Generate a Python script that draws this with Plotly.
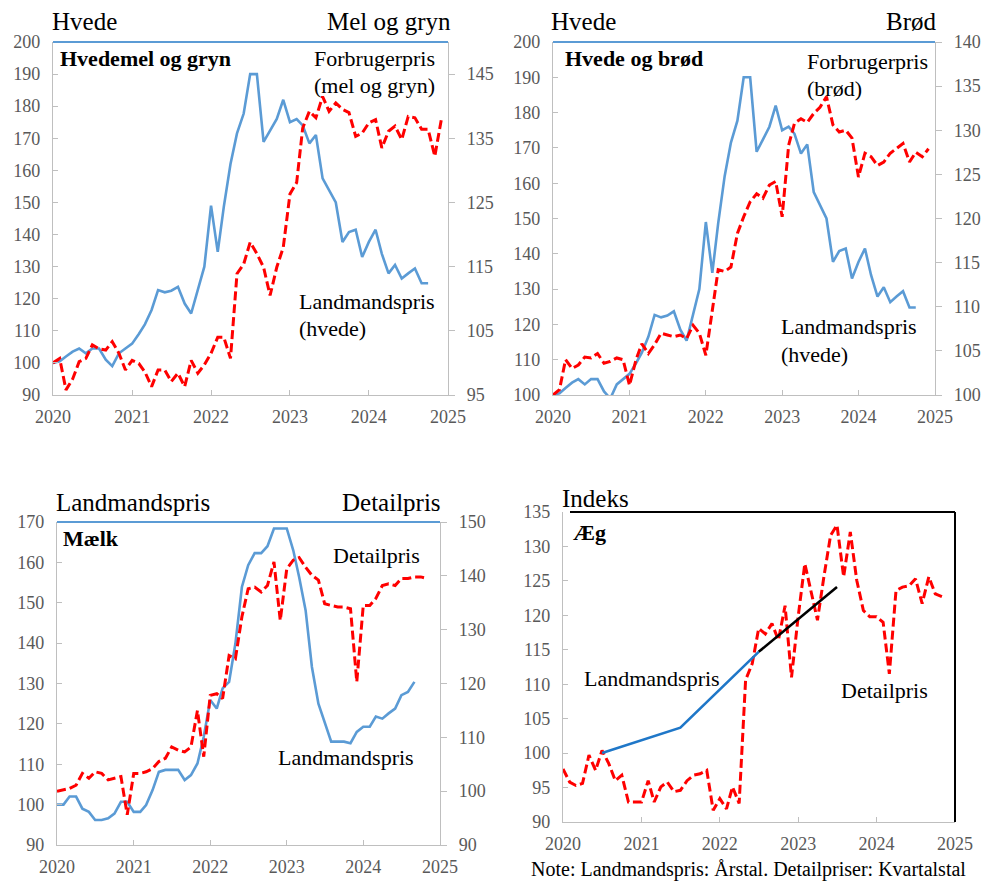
import plotly.graph_objects as go

# ---------------- data ----------------
# monthly series starting Jan 2020
wheat_farmer = [100, 100.5, 102, 103.5, 104.5, 103, 104.5, 104.5, 101, 99, 103, 104.5,
                106, 109, 112, 116.5, 122.7, 122, 122.5, 123.7, 118.5, 115.4, 122.7, 130,
                149, 134.6, 148.6, 162, 171.5, 177.7, 190, 190, 168.9, 172.5, 176, 182,
                175, 176, 174, 168.4, 171, 157.5, 154, 150, 137.7, 140.8, 141.5, 133,
                137.7, 141.5, 134, 127.9, 130.5, 126.3, 127.9, 129.4, 124.8, 124.8]

flour_cpi = [100, 100.7, 95.8, 97.5, 100.2, 100.7, 102.8, 102.2, 102, 103.3, 101.5, 98.9,
             100.4, 99.9, 98.6, 96.3, 98.9, 98.9, 97.1, 98.4, 96.3, 100.4, 98.4, 99.7,
             101.5, 104, 104, 100.7, 113.9, 115.4, 118.8, 117, 114.9, 110.5, 114.9, 118,
             126.3, 128.1, 136.6, 139.2, 138.2, 141.5, 139.2, 140.5, 139.5, 139, 135.3, 135.8,
             137.4, 137.9, 133.5, 136.1, 136.9, 134.8, 138.4, 138.2, 136.4, 136.4, 132.2, 137.9]

bread_cpi = [100, 100.6, 104, 103, 103.4, 104.3, 104.2, 104.7, 103.6, 103.8, 104.2, 104,
             101.1, 104, 105.8, 104.7, 105.7, 107, 106.8, 106.6, 106.8, 106.4, 107.9, 107,
             104.5, 109.8, 114.2, 114, 114.5, 118.3, 120.2, 121.9, 122.8, 122.3, 123.8, 124.2,
             120.2, 128.3, 130.8, 131.3, 130.9, 131.9, 132.6, 133.8, 130.6, 129.8, 130, 129.1,
             124.7, 127.4, 127, 126, 126.4, 127.4, 127.9, 128.5, 126.4, 127.5, 127, 127.9]

milk_farmer = [100, 100, 102, 102, 99, 98.2, 96.2, 96.2, 96.6, 97.8, 100.7, 100.7,
               98.2, 98.2, 99.9, 103.6, 108.1, 108.6, 108.6, 108.6, 106.1, 107.3, 110.2, 116.8,
               125.9, 123.8, 128.8, 130.4, 139.9, 153.9, 159.3, 162.3, 162.3, 164, 168.4, 168.4,
               168.4, 163, 156.4, 148.1, 134.1, 125, 120.1, 115.6, 115.6, 115.6, 115.2, 118,
               119.3, 119.3, 121.8, 121.3, 122.6, 123.8, 127.1, 127.9, 130.4]

milk_retail = [100, 100.2, 100.5, 101.1, 103.3, 102.4, 103.6, 103.3, 102.1, 102.4, 102.7, 95.6,
               103.3, 103.3, 103.6, 104.2, 105.5, 106.1, 108.2, 107.6, 107.3, 108.2, 115, 106.4,
               117.8, 118.1, 117.2, 125.2, 124.6, 132.4, 137.6, 137.9, 137, 138.2, 142.6, 131.7,
               141.3, 142.9, 143.4, 141.6, 140.1, 139.2, 134.8, 134.5, 134.2, 134.2, 133.9, 120.3,
               134.5, 134.5, 135.8, 138.2, 138.5, 138.2, 139.5, 139.5, 139.8, 139.8, 139.5]

egg_retail = [97.7, 95.8, 95.3, 95.6, 99.7, 97.5, 100.4, 98.5, 96, 96.8, 92.9, 92.9,
              92.9, 96, 92.9, 95.1, 95.8, 94.4, 94.6, 96, 96.8, 97, 97.5, 91.7,
              93.4, 91.9, 95.1, 92.7, 110.6, 113, 118.1, 117.3, 118.8, 116.4, 121.4, 111,
              119.8, 127.5, 123.6, 119.3, 125.6, 131.6, 133.1, 125.6, 132.1, 125.1, 120.7, 119.8,
              119.8, 119, 111.5, 123.6, 124.1, 124.3, 125.3, 121.7, 125.6, 123.1, 122.7]

egg_farmer_years = [2020, 2021, 2022, 2023]
egg_farmer = [100.0, 103.7, 114.7, 124.1]

year_ticks = [2020, 2021, 2022, 2023, 2024, 2025]


def months(n):
    out = []
    for i in range(n):
        y = 2020 + i // 12
        m = i % 12 + 1
        out.append(f"{y}-{m:02d}-01")
    return out


def midyear(years):
    return [f"{y}-07-01" for y in years]


# ---------------- styles ----------------
FONT = "Liberation Serif"
BLUE = "#5B9BD5"
BLUE_EGG = "#1F77C8"
RED = "#FF0000"
AXIS = "#BFBFBF"
TICKC = "#595959"
DASH = "9px,4px"

W, H = 985, 881


def px_x(x):
    return x / W


def px_y(y):
    return 1 - y / H


fig = go.Figure()

# chart 1
fig.add_trace(go.Scatter(x=months(len(wheat_farmer)), y=wheat_farmer, xaxis="x", yaxis="y",
                         mode="lines", line=dict(color=BLUE, width=2.6)))
fig.add_trace(go.Scatter(x=months(len(flour_cpi)), y=flour_cpi, xaxis="x", yaxis="y2",
                         mode="lines", line=dict(color=RED, width=3, dash=DASH)))
# chart 2
fig.add_trace(go.Scatter(x=months(len(wheat_farmer)), y=wheat_farmer, xaxis="x2", yaxis="y3",
                         mode="lines", line=dict(color=BLUE, width=2.6)))
fig.add_trace(go.Scatter(x=months(len(bread_cpi)), y=bread_cpi, xaxis="x2", yaxis="y4",
                         mode="lines", line=dict(color=RED, width=3, dash=DASH)))
# chart 3
fig.add_trace(go.Scatter(x=months(len(milk_farmer)), y=milk_farmer, xaxis="x3", yaxis="y5",
                         mode="lines", line=dict(color=BLUE, width=2.6)))
fig.add_trace(go.Scatter(x=months(len(milk_retail)), y=milk_retail, xaxis="x3", yaxis="y6",
                         mode="lines", line=dict(color=RED, width=3, dash=DASH)))
# chart 4
fig.add_trace(go.Scatter(x=months(len(egg_retail)), y=egg_retail, xaxis="x4", yaxis="y7",
                         mode="lines", line=dict(color=RED, width=3, dash=DASH)))
fig.add_trace(go.Scatter(x=midyear(egg_farmer_years[:3]), y=egg_farmer[:3], xaxis="x4", yaxis="y7",
                         mode="lines", line=dict(color=BLUE_EGG, width=2.6)))
fig.add_trace(go.Scatter(x=midyear(egg_farmer_years[2:]), y=egg_farmer[2:], xaxis="x4", yaxis="y7",
                         mode="lines", line=dict(color="black", width=2.6)))

tickfont = dict(family=FONT, size=18, color=TICKC)


def xaxis(dom, anchor):
    return dict(domain=dom, anchor=anchor, type="date", automargin=False,
                range=["2020-01-01", "2025-01-01"],
                tickvals=[f"{y}-01-01" for y in year_ticks],
                ticktext=[str(y) for y in year_ticks],
                showline=True, linecolor=AXIS, linewidth=1.3,
                ticks="inside", ticklen=5, tickcolor=AXIS,
                showgrid=False, zeroline=False, tickfont=tickfont,
                ticklabelstandoff=5)


def yleft(dom, anchor, rng, dtick, tick0):
    return dict(domain=dom, anchor=anchor, range=rng, dtick=dtick, tick0=tick0, automargin=False,
                showline=True, linecolor=AXIS, linewidth=1.3,
                ticks="inside", ticklen=5, tickcolor=AXIS,
                showgrid=False, zeroline=False, tickfont=tickfont,
                ticklabelstandoff=8)


def yright(over, anchor, rng, dtick, tick0):
    return dict(overlaying=over, anchor=anchor, side="right", range=rng, dtick=dtick, tick0=tick0,
                automargin=False,
                showline=True, linecolor=AXIS, linewidth=1.3,
                ticks="outside", ticklen=6, tickcolor=AXIS,
                showgrid=False, zeroline=False, tickfont=tickfont,
                ticklabelstandoff=8)


d1x = [px_x(53), px_x(448)]
d2x = [px_x(553), px_x(935)]
d3x = [px_x(57), px_x(440)]
d4x = [px_x(563), px_x(955)]
dtop = [px_y(395), px_y(42)]
d3y = [px_y(845), px_y(522)]
d4y = [px_y(822), px_y(512)]

fig.update_layout(
    width=W, height=H,
    margin=dict(l=0, r=0, t=0, b=0, autoexpand=False),
    paper_bgcolor="white", plot_bgcolor="white",
    font=dict(family=FONT),
    showlegend=False,
    xaxis=xaxis(d1x, "y"),
    yaxis=yleft(dtop, "x", [90, 200], 10, 90),
    yaxis2=yright("y", "x", [95, 150], 10, 95),
    xaxis2=xaxis(d2x, "y3"),
    yaxis3=yleft(dtop, "x2", [100, 200], 10, 100),
    yaxis4=yright("y3", "x2", [100, 140], 5, 100),
    xaxis3=xaxis(d3x, "y5"),
    yaxis5=yleft(d3y, "x3", [90, 170], 10, 90),
    yaxis6=yright("y5", "x3", [90, 150], 10, 90),
    xaxis4=xaxis(d4x, "y7"),
    yaxis7=yleft(d4y, "x4", [90, 135], 5, 90),
)

# top borders
shapes = []
for dx, dy in [(d1x, dtop), (d2x, dtop), (d3x, d3y)]:
    shapes.append(dict(type="line", xref="paper", yref="paper", x0=dx[0], x1=dx[1],
                       y0=dy[1], y1=dy[1], line=dict(color=BLUE, width=2)))
shapes.append(dict(type="line", xref="paper", yref="paper", x0=px_x(570), x1=d4x[1],
                   y0=d4y[1], y1=d4y[1], line=dict(color="black", width=2)))
shapes.append(dict(type="line", xref="paper", yref="paper", x0=d4x[1], x1=d4x[1],
                   y0=d4y[0], y1=d4y[1], line=dict(color="black", width=2)))
fig.update_layout(shapes=shapes)


def ann(text, x, y, xanchor="left", size=22, bold=False, color="black"):
    if bold:
        text = f"<b>{text}</b>"
    return dict(text=text, x=px_x(x), y=px_y(y), xref="paper", yref="paper",
                xanchor=xanchor, yanchor="middle", showarrow=False, align="left",
                font=dict(family=FONT, size=size, color=color))


anns = [
    ann("Hvede", 50, 22, size=25),
    ann("Mel og gryn", 453, 22, xanchor="right", size=25),
    ann("Hvede", 549, 22, size=25),
    ann("Brød", 939, 22, xanchor="right", size=25),
    ann("Landmandspris", 54, 502, size=25),
    ann("Detailpris", 443, 502, xanchor="right", size=25),
    ann("Indeks", 560, 498, size=25),

    ann("Hvedemel og gryn", 58, 59, size=22, bold=True),
    ann("Hvede og brød", 563, 58, size=22, bold=True),
    ann("Mælk", 61, 538, size=22, bold=True),
    ann("Æg", 571, 532, size=22, bold=True),

    ann("Forbrugerpris", 312, 58),
    ann("(mel og gryn)", 312, 85),
    ann("Landmandspris", 297, 302),
    ann("(hvede)", 297, 328),
    ann("Forbrugerpris", 805, 61),
    ann("(brød)", 805, 88),
    ann("Landmandspris", 779, 327),
    ann("(hvede)", 779, 354),
    ann("Detailpris", 331, 555),
    ann("Landmandspris", 276, 757),
    ann("Landmandspris", 582, 678),
    ann("Detailpris", 839, 690),

    ann("Note: Landmandspris: Årstal. Detailpriser: Kvartalstal", 748, 869,
        xanchor="center", size=20),
]
fig.update_layout(annotations=anns)

fig.write_html("out.html", config={"displayModeBar": False},
               post_script="document.body.style.margin='0px';")
